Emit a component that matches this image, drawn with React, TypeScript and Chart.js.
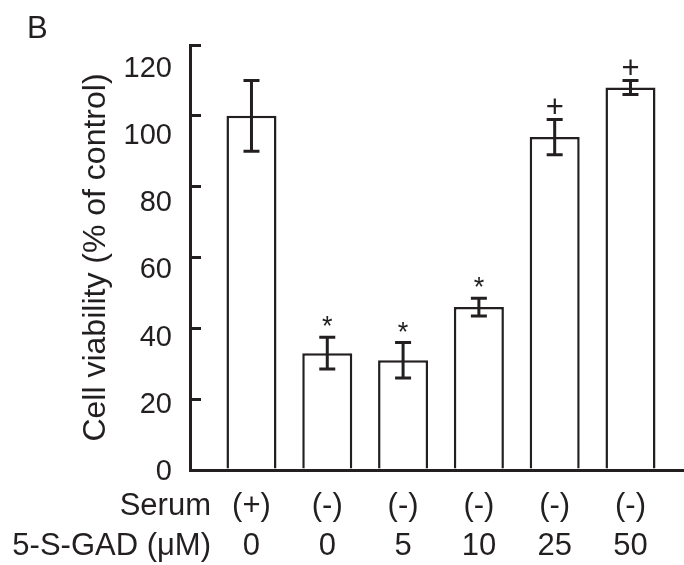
import React, { useEffect, useRef } from 'react';
import { Chart, registerables } from 'chart.js';

Chart.register(...registerables);

// ---- data ----
const serumLabels = ['(+)', '(-)', '(-)', '(-)', '(-)', '(-)'];
const gadLabels = ['0', '0', '5', '10', '25', '50'];
const viability = [100, 33, 31, 46, 94, 108];
const errors = [10, 4.5, 5, 2.5, 5, 2];
const marks = ['', '*', '*', '*', '+', '+'];
const yTickValues = [0, 20, 40, 60, 80, 100, 120];
const rowHeaders = ['Serum', '5-S-GAD (\u03bcM)'];
const yTitle = 'Cell viability (% of control)';
const panelLetter = 'B';

const INK = '#231f20';
const FONT = '"Liberation Sans", Arial, Helvetica, sans-serif';

const overlayPlugin = {
  id: 'overlay',
  afterDatasetsDraw(chart: any) {
    const ctx = chart.ctx;
    const y = chart.scales.y;
    const meta = chart.getDatasetMeta(0);
    ctx.save();
    ctx.strokeStyle = INK;
    ctx.fillStyle = INK;
    ctx.lineWidth = 3;
    meta.data.forEach((bar: any, i: number) => {
      const x = bar.x;
      const top = y.getPixelForValue(viability[i] + errors[i]);
      const bot = y.getPixelForValue(viability[i] - errors[i]);
      ctx.beginPath();
      ctx.moveTo(x, top);
      ctx.lineTo(x, bot);
      ctx.moveTo(x - 8, top);
      ctx.lineTo(x + 8, top);
      ctx.moveTo(x - 8, bot);
      ctx.lineTo(x + 8, bot);
      ctx.stroke();
      const m = marks[i];
      if (m) {
        ctx.textAlign = 'center';
        ctx.textBaseline = 'alphabetic';
        ctx.font = (m === '*' ? '27px ' : '31px ') + FONT;
        ctx.fillText(m, x, top - 2);
      }
    });
    ctx.restore();
  },
  afterDraw(chart: any) {
    const ctx = chart.ctx;
    const xs = chart.scales.x;
    ctx.save();
    ctx.fillStyle = INK;
    ctx.font = '31px ' + FONT;
    ctx.textAlign = 'left';
    ctx.textBaseline = 'alphabetic';
    ctx.fillText(panelLetter, 27, 38);
    ctx.textAlign = 'right';
    ctx.textBaseline = 'middle';
    rowHeaders.forEach((h, i) => {
      ctx.fillText(h, chart.chartArea.left + 21, xs.top + 16 + 20 + i * 40);
    });
    ctx.restore();
  },
};

export default function App() {
  const ref = useRef<HTMLCanvasElement | null>(null);
  useEffect(() => {
    if (!ref.current) return;
    const chart = new Chart(ref.current, {
      type: 'bar',
      data: {
        datasets: [
          {
            data: viability.map((v, i) => ({ x: i, y: v })),
            backgroundColor: '#ffffff',
            borderColor: INK,
            borderWidth: 2.5,
            barPercentage: 0.66,
            categoryPercentage: 1,
            yAxisID: 'y',
            xAxisID: 'x',
          },
        ],
      },
      options: {
        responsive: false,
        animation: false,
        devicePixelRatio: 1,
        layout: { padding: { top: 45, left: 0, right: 0, bottom: 0 } },
        plugins: { legend: { display: false }, tooltip: { enabled: false }, title: { display: false } },
        scales: {
          x: {
            type: 'linear',
            position: 'bottom',
            offset: false,
            min: -0.811,
            max: 5.706,
            afterBuildTicks: (s: any) => {
              s.ticks = serumLabels.map((_, i) => ({ value: i }));
            },
            afterFit: (s: any) => {
              s.height = 95;
            },
            grid: { display: true, drawOnChartArea: false, drawTicks: false, offset: false },
            border: { display: true, color: INK, width: 3 },
            ticks: {
              autoSkip: false,
              maxRotation: 0,
              minRotation: 0,
              padding: 16,
              color: INK,
              font: { family: FONT, size: 31, lineHeight: '40px' as any },
              callback: (v: any) => [serumLabels[v], gadLabels[v]],
            },
          },
          y: {
            type: 'linear',
            position: 'left',
            weight: 0,
            min: 0,
            max: 120,
            afterFit: (s: any) => {
              s.width = 0;
            },
            ticks: { display: false, stepSize: 20 },
            grid: { display: true, drawOnChartArea: false, drawTicks: true, tickLength: -11, lineWidth: 3, color: INK },
            border: { display: true, color: INK, width: 3 },
          },
          yl: {
            type: 'linear',
            position: 'left',
            weight: 1,
            min: 0.6,
            max: 127.1,
            afterBuildTicks: (s: any) => {
              s.ticks = yTickValues.map((v) => ({ value: v }));
            },
            afterFit: (s: any) => {
              s.width = 190;
            },
            grid: { display: false },
            border: { display: false },
            ticks: {
              padding: 10,
              color: INK,
              font: { family: FONT, size: 29 },
            },
            title: {
              display: true,
              text: yTitle,
              color: INK,
              font: { family: FONT, size: 32 },
              padding: { top: 77, bottom: 0 },
            },
          },
        },
      } as any,
      plugins: [overlayPlugin],
    });
    return () => chart.destroy();
  }, []);
  return (
    <div style={{ position: 'fixed', left: 0, top: 0, width: 684, height: 565, background: '#fff' }}>
      <canvas ref={ref} width={684} height={565} style={{ display: 'block' }} />
    </div>
  );
}
